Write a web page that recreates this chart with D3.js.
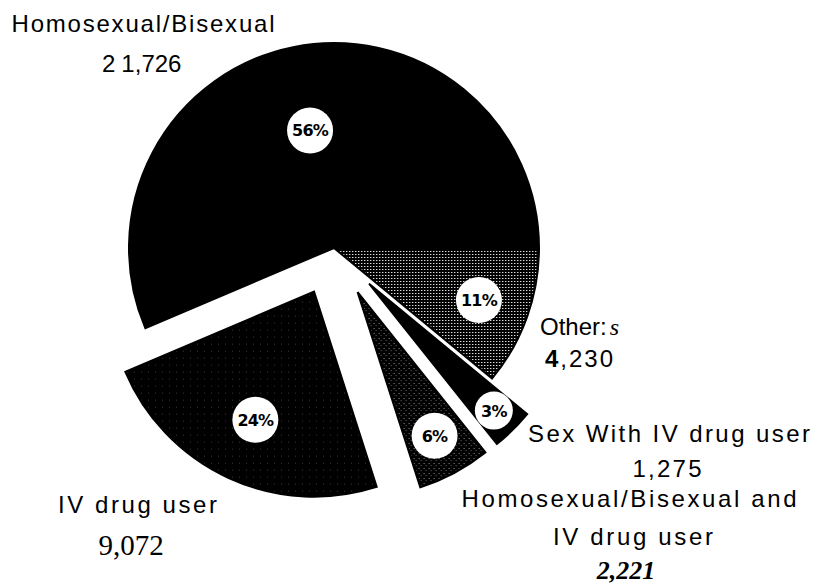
<!DOCTYPE html>
<html>
<head>
<meta charset="utf-8">
<script src="https://cdn.jsdelivr.net/npm/d3@7"></script>
<style>
  body { margin: 0; background: #fff; }
  svg { display: block; }
</style>
</head>
<body>
<div id="chart"></div>
<script type="text/javascript">

      // AIDS cases by exposure category, slices run clockwise from 3 o'clock
      var categories = ["Other:", "Sex With IV drug user", "Homosexual/Bisexual and IV drug user", "IV drug user", "Homosexual/Bisexual"];
      var cases = [4230, 1275, 2221, 9072, 21726];

      var w = 822, h = 586;
      var cx = 334, cy = 248; //pie centre
      var r = 205;
      var explode = [0, 50, 50, 48, 0]; //pull-out of each slice
      var labelR = [154, 178, 163, 141, 120]; //distance of the % bubble
      var bubbleR = [23, 19, 23, 23, 23];
      var fills = ["url(#grid)", "#000", "url(#speckle)", "url(#fleck)", "#000"];

      var total = d3.sum(cases);
      var fmt = d3.format(",");

      var svg = d3.select("#chart")
                  .append("svg")
                  .attr("width", w)
                  .attr("height", h);

      // textures
      var defs = svg.append("defs");
      var grid = defs.append("pattern").attr("id", "grid")
          .attr("patternUnits", "userSpaceOnUse").attr("width", 3).attr("height", 3);
      grid.append("rect").attr("width", 3).attr("height", 3).attr("fill", "#000");
      grid.append("rect").attr("width", 1.4).attr("height", 1).attr("fill", "#ddd");

      var speckle = defs.append("pattern").attr("id", "speckle")
          .attr("patternUnits", "userSpaceOnUse").attr("width", 5).attr("height", 5);
      speckle.append("rect").attr("width", 5).attr("height", 5).attr("fill", "#000");
      speckle.append("rect").attr("x", 1).attr("y", 1).attr("width", 1).attr("height", 1).attr("fill", "#999");
      speckle.append("rect").attr("x", 3).attr("y", 3).attr("width", 1).attr("height", 1).attr("fill", "#666");

      var fleck = defs.append("pattern").attr("id", "fleck")
          .attr("patternUnits", "userSpaceOnUse").attr("width", 7).attr("height", 7);
      fleck.append("rect").attr("width", 7).attr("height", 7).attr("fill", "#000");
      fleck.append("rect").attr("x", 2).attr("y", 3).attr("width", 1).attr("height", 1).attr("fill", "#3a3a3a");

      var pie = d3.pie()
                  .sort(null)
                  .startAngle(Math.PI / 2)
                  .endAngle(Math.PI / 2 + 2 * Math.PI);
      var arcs = pie(cases);

      var arc = d3.arc().innerRadius(0).outerRadius(r);

      var slice = svg.selectAll("g.slice")
         .data(arcs)
         .enter()
         .append("g")
         .attr("class", "slice")
         .attr("transform", function(d, i) {
              var a = (d.startAngle + d.endAngle) / 2;
              return "translate(" + (cx + explode[i] * Math.sin(a)) + "," + (cy - explode[i] * Math.cos(a)) + ")";
         });

      slice.append("path")
         .attr("d", arc)
         .attr("fill", function(d, i) { return fills[i]; })
         .attr("stroke", "#000")
         .attr("stroke-width", 2);

      slice.append("circle")
         .attr("cx", function(d, i) { return labelR[i] * Math.sin((d.startAngle + d.endAngle) / 2); })
         .attr("cy", function(d, i) { return -labelR[i] * Math.cos((d.startAngle + d.endAngle) / 2); })
         .attr("r", function(d, i) { return bubbleR[i]; })
         .attr("fill", "#fff");

      slice.append("text")
         .attr("x", function(d, i) { return labelR[i] * Math.sin((d.startAngle + d.endAngle) / 2); })
         .attr("y", function(d, i) { return -labelR[i] * Math.cos((d.startAngle + d.endAngle) / 2) + 6; })
         .attr("text-anchor", "middle")
         .style("font", "bold 16px 'DejaVu Sans', sans-serif")
         .style("letter-spacing", "-0.8px")
         .text(function(d) { return Math.round(d.value / total * 100) + "%"; });

      // category labels
      var sans = "'Liberation Sans', Arial, sans-serif";
      var serif = "'Liberation Serif', 'Times New Roman', serif";

      function line(x, y, anchor, len) {
          var t = svg.append("text")
              .attr("x", x).attr("y", y)
              .attr("text-anchor", anchor)
              .style("font-family", sans)
              .style("font-size", "24px")
              .attr("fill", "#000");
          if (len) t.attr("textLength", len).attr("lengthAdjust", "spacing");
          return t;
      }

      // Homosexual/Bisexual
      line(143, 32, "middle", 263).text(categories[4]);
      var c4 = fmt(cases[4]);
      var t4 = line(102, 72, "start");
      t4.append("tspan").text(c4.charAt(0));
      t4.append("tspan").attr("dx", 6).text(c4.slice(1));

      // Other
      var t0 = line(540, 335, "start");
      t0.append("tspan").text(categories[0]);
      t0.append("tspan").style("font-family", serif).style("font-style", "italic").attr("dx", 3).text("s");
      var c0 = fmt(cases[0]);
      var t0b = line(545, 367, "start", 68);
      t0b.append("tspan").style("font-weight", "bold").text(c0.charAt(0));
      t0b.append("tspan").text(c0.slice(1));

      // Sex With IV drug user
      line(528, 442, "start", 282).text(categories[1]);
      line(667, 477, "middle", 69).text(fmt(cases[1]));

      // Homosexual/Bisexual and IV drug user
      var parts = categories[2].split(" and ");
      line(629, 507, "middle", 335).text(parts[0] + "  and");
      line(633, 545, "middle", 160).text(parts[1]);
      line(626, 579, "middle")
          .style("font-family", serif).style("font-weight", "bold").style("font-style", "italic")
          .style("font-size", "26px")
          .text(fmt(cases[2]));

      // IV drug user
      line(58, 513, "start", 159).text(categories[3]);
      line(131, 555, "middle")
          .style("font-family", serif).style("font-size", "29px")
          .text(fmt(cases[3]));

</script>
</body>
</html>
